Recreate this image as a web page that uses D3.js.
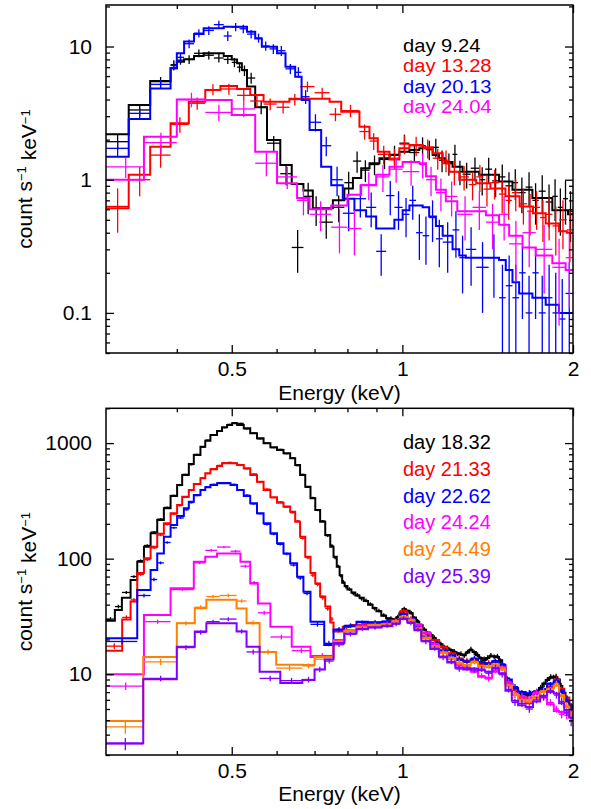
<!DOCTYPE html>
<html><head><meta charset="utf-8">
<script src="https://cdn.jsdelivr.net/npm/d3@7"></script>
<style>
body{margin:0;background:#fff}
svg{display:block;background:#fff}
</style>
</head><body>
<svg id="chart" width="591" height="809"></svg>
<script>
// ---------- axis settings (values) ----------
const xDomain = [0.3, 2];
const xMajorTicks = [0.5, 1, 2];
const xMinorTicks = [0.4, 0.6, 0.7, 0.8, 0.9];
const topYDomain = [0.05, 20.5];
const topYMajorTicks = [0.1, 1, 10];
const botYDomain = [2, 2000];
const botYMajorTicks = [10, 100, 1000];
const xLabel = "Energy (keV)";

// ---------- legends ----------
const topLegend = ["day 9.24", "day 13.28", "day 20.13", "day 24.04"];
const botLegend = ["day 18.32", "day 21.33", "day 22.62", "day 24.24", "day 24.49", "day 25.39"];
const topColors = ["#000000", "#ff0000", "#0000ff", "#ff00ff"];
const botColors = ["#000000", "#ff0000", "#0000ff", "#ff00ff", "#ff8000", "#8000ff"];

// ---------- spectra: [E_lo, E_hi, model, data, error] ----------
const day9_24 = [
[0.300,0.329,2.19,1.93,0.25],[0.329,0.359,3.64,3.34,0.35],[0.359,0.390,5.51,5.45,0.45],
[0.390,0.400,6.87,7.3,0.6],[0.400,0.412,7.69,7.9,0.6],[0.412,0.429,8.02,8.0,0.6],
[0.429,0.446,8.49,8.9,0.6],[0.446,0.465,8.9,8.6,0.6],[0.465,0.484,8.9,8.2,0.6],
[0.484,0.500,8.5,8.0,0.6],[0.500,0.511,8.0,7.6,0.6],[0.511,0.521,7.48,7.0,0.6],
[0.521,0.532,6.67,6.6,0.6],[0.532,0.550,5.0,5.8,0.55],[0.550,0.577,3.5,3.5,0.4],
[0.577,0.609,1.99,1.88,0.25],[0.609,0.638,1.29,1.11,0.2],[0.638,0.669,0.93,0.31,0.11],
[0.669,0.695,0.83,0.75,0.2],[0.695,0.714,0.61,0.60,0.15],[0.714,0.754,0.61,0.48,0.12],
[0.754,0.790,0.70,0.62,0.14],[0.790,0.818,0.86,0.95,0.2],[0.818,0.846,1.03,1.38,0.25],
[0.846,0.875,1.22,1.18,0.22],[0.875,0.911,1.33,1.30,0.22],[0.911,0.949,1.45,1.42,0.22],
[0.949,0.988,1.53,1.55,0.25],[0.988,1.029,1.62,1.88,0.3],[1.029,1.071,1.67,1.60,0.25],
[1.071,1.100,1.72,1.80,0.28],[1.100,1.131,1.72,1.68,0.28],[1.131,1.160,1.53,1.75,0.28],
[1.160,1.190,1.45,1.40,0.26],[1.190,1.226,1.36,1.32,0.25],[1.226,1.250,1.25,1.55,0.28],
[1.250,1.277,1.25,1.15,0.24],[1.277,1.320,1.15,1.10,0.24],[1.320,1.366,1.15,1.22,0.25],
[1.366,1.400,1.09,1.00,0.24],[1.400,1.440,1.09,1.20,0.26],[1.440,1.481,1.09,0.98,0.24],
[1.481,1.520,0.97,1.05,0.25],[1.520,1.564,0.97,0.90,0.24],[1.564,1.600,0.84,0.95,0.25],
[1.600,1.650,0.84,0.80,0.24],[1.650,1.696,0.84,0.88,0.26],[1.696,1.740,0.73,0.70,0.24],
[1.740,1.790,0.73,0.82,0.26],[1.790,1.839,0.73,0.68,0.24],[1.839,1.880,0.59,0.75,0.26],
[1.880,1.920,0.59,0.62,0.24],[1.920,1.960,0.59,0.72,0.26],[1.960,2.000,0.55,0.58,0.24]
];
const day13_28 = [
[0.300,0.329,0.61,0.63,0.23],[0.329,0.359,1.09,1.0,0.25],[0.359,0.390,1.77,1.53,0.3],
[0.390,0.420,2.65,2.6,0.35],[0.420,0.449,3.85,3.75,0.4],[0.449,0.4775,4.72,4.75,0.45],
[0.4775,0.511,5.06,4.8,0.45],[0.511,0.539,4.8,4.3,0.45],[0.539,0.569,4.33,3.9,0.4],
[0.569,0.600,3.85,3.7,0.38],[0.600,0.632,3.85,3.5,0.36],[0.632,0.660,4.05,4.0,0.4],
[0.660,0.700,4.05,5.0,0.45],[0.700,0.744,4.05,4.5,0.4],[0.744,0.780,3.85,3.1,0.35],
[0.780,0.840,3.24,3.3,0.35],[0.840,0.875,2.5,2.3,0.3],[0.875,0.905,2.05,1.95,0.28],
[0.905,0.949,1.62,1.55,0.25],[0.949,0.988,1.42,1.45,0.25],[0.988,1.029,1.72,1.85,0.3],
[1.029,1.086,1.82,1.80,0.3],[1.086,1.131,1.75,1.72,0.28],[1.131,1.178,1.58,1.45,0.26],
[1.178,1.210,1.33,1.40,0.26],[1.210,1.260,1.15,1.15,0.24],[1.260,1.310,1.00,1.05,0.22],
[1.310,1.350,1.00,0.92,0.22],[1.350,1.390,0.94,1.05,0.24],[1.390,1.430,0.94,0.85,0.22],
[1.430,1.480,0.86,0.95,0.24],[1.480,1.520,0.86,0.78,0.22],[1.520,1.560,0.75,0.70,0.2],
[1.560,1.610,0.75,0.80,0.22],[1.610,1.660,0.63,0.66,0.2],[1.660,1.700,0.63,0.58,0.2],
[1.700,1.750,0.56,0.62,0.2],[1.750,1.790,0.56,0.52,0.18],[1.790,1.840,0.47,0.55,0.2],
[1.840,1.890,0.47,0.45,0.18],[1.890,1.950,0.41,0.50,0.2],[1.950,2.000,0.40,0.42,0.18]
];
const day20_13 = [
[0.300,0.329,1.49,1.72,0.25],[0.329,0.359,2.86,3.15,0.3],[0.359,0.390,4.85,5.2,0.4],
[0.390,0.400,6.87,7.2,0.6],[0.400,0.412,8.9,8.3,0.7],[0.412,0.429,10.9,10.5,0.8],
[0.429,0.446,12.4,12.6,0.9],[0.446,0.465,13.7,13.2,1.0],[0.465,0.484,13.7,14.6,1.0],
[0.484,0.500,14.1,12.0,1.0],[0.500,0.516,14.1,14.0,1.0],[0.516,0.532,14.1,13.6,1.0],
[0.532,0.550,12.9,12.4,0.9],[0.550,0.565,11.5,11.6,0.9],[0.565,0.583,9.97,10.1,0.8],
[0.583,0.601,9.97,9.6,0.8],[0.601,0.622,8.9,9.3,0.8],[0.622,0.647,7.05,6.8,0.6],
[0.647,0.664,5.94,6.4,0.6],[0.664,0.686,3.97,4.2,0.5],[0.686,0.719,2.36,2.7,0.4],
[0.719,0.749,1.25,1.8,0.3],[0.749,0.785,0.91,1.0,0.25],[0.785,0.823,0.72,0.56,0.15],
[0.823,0.863,0.59,0.72,0.2],[0.863,0.899,0.53,0.62,0.18],[0.899,0.936,0.43,0.29,0.1],
[0.936,0.968,0.43,0.76,0.22],[0.968,1.001,0.50,0.62,0.2],[1.001,1.029,0.59,0.55,0.18],
[1.029,1.057,0.64,0.70,0.2],[1.057,1.086,0.64,0.40,0.15],[1.086,1.115,0.62,0.38,0.15],
[1.115,1.146,0.53,0.52,0.18],[1.146,1.178,0.45,0.36,0.14],[1.178,1.226,0.38,0.34,0.14],
[1.226,1.260,0.30,0.42,0.16],[1.260,1.294,0.27,0.26,0.12],[1.294,1.350,0.26,0.30,0.14],
[1.350,1.420,0.26,0.22,0.12],[1.420,1.481,0.26,0.26,0.13],[1.481,1.522,0.25,0.13,0.1],
[1.522,1.564,0.21,0.16,0.11],[1.564,1.607,0.17,0.13,0.1],[1.607,1.650,0.14,0.20,0.11],
[1.650,1.696,0.14,0.10,0.09],[1.696,1.740,0.13,0.20,0.11],[1.740,1.790,0.13,0.10,0.09],
[1.790,1.840,0.115,0.13,0.1],[1.840,1.889,0.115,0.10,0.1],[1.889,1.940,0.10,0.09,0.09],
[1.940,2.000,0.10,0.14,0.1]
];
const day24_04 = [
[0.300,0.350,1.0,1.25,0.22],[0.350,0.400,2.1,1.9,0.35],[0.400,0.449,4.0,4.0,0.5],
[0.449,0.500,3.97,3.2,0.45],[0.500,0.550,3.06,3.4,0.45],[0.550,0.601,1.62,1.33,0.27],
[0.601,0.652,0.94,1.05,0.2],[0.652,0.686,0.73,0.70,0.16],[0.686,0.749,0.60,0.55,0.14],
[0.749,0.800,0.64,0.44,0.16],[0.800,0.846,0.77,0.43,0.16],[0.846,0.899,0.91,0.92,0.22],
[0.899,0.949,1.09,1.05,0.24],[0.949,1.001,1.25,1.20,0.25],[1.001,1.071,1.36,1.15,0.25],
[1.071,1.101,1.33,1.30,0.28],[1.101,1.146,1.06,1.0,0.25],[1.146,1.193,0.84,0.80,0.22],
[1.193,1.250,0.69,0.75,0.22],[1.250,1.330,0.58,0.55,0.2],[1.330,1.404,0.58,0.62,0.2],
[1.404,1.481,0.54,0.48,0.18],[1.481,1.543,0.46,0.55,0.2],[1.543,1.629,0.38,0.33,0.16],
[1.629,1.719,0.31,0.40,0.18],[1.719,1.839,0.27,0.30,0.16],[1.839,1.941,0.236,0.22,0.14],
[1.941,2.000,0.21,0.26,0.15]
];

const day18_32 = [
[0.300,0.311,29,30,1.2],[0.311,0.320,36,38.5,1.4],[0.320,0.3315,46,51,1.6],
[0.3315,0.3406,65.5,70,2],[0.3406,0.350,94,96,2.5],[0.350,0.3596,127,130,3],
[0.3596,0.3694,166,170,3.5],[0.3694,0.3795,216,220,4],[0.3795,0.390,273,278,5],
[0.390,0.4005,349,352,6],[0.4005,0.4088,434,430,7],[0.4088,0.420,530,535,8],
[0.420,0.4286,660,650,9],[0.4286,0.4403,789,800,10],[0.4403,0.449,931,925,12],
[0.449,0.4585,1050,1060,13],[0.4585,0.471,1175,1170,14],[0.471,0.4807,1272,1280,15],
[0.4807,0.4906,1369,1360,16],[0.4906,0.5007,1434,1450,17],[0.5007,0.511,1483,1500,18],
[0.511,0.525,1434,1480,17],[0.525,0.539,1342,1330,16],[0.539,0.554,1215,1220,15],
[0.554,0.569,1100,1090,14],[0.569,0.585,996,1000,13],[0.585,0.601,920,915,12],
[0.601,0.617,872,880,12],[0.617,0.634,816,810,11],[0.634,0.647,739,745,10],
[0.647,0.660,646,640,9],[0.660,0.674,530,535,8],[0.674,0.6885,420,415,7],
[0.6885,0.702,333,338,6],[0.702,0.716,264,262,5],[0.716,0.731,209,212,4.5],
[0.731,0.746,160,158,4],[0.746,0.756,127,130,3.5],[0.756,0.766,104,102,3],
[0.766,0.775,85,86,2.7],[0.775,0.783,72,71,2.4],[0.783,0.791,62,63,2.2],
[0.791,0.800,58,57,2],[0.800,0.813,54,54.5,2],[0.813,0.826,51,50,1.8],
[0.826,0.840,48,48.5,1.8],[0.840,0.855,46,45,1.7],[0.855,0.870,43,43.5,1.6],
[0.870,0.886,40,40.5,1.5],[0.886,0.900,37.5,37,1.4],[0.900,0.918,35,35.5,1.3],
[0.918,0.936,32,32.5,1.2],[0.936,0.948,30.5,30,1.2],[0.948,0.961,30,30.5,1.2],
[0.961,0.975,29.8,29.5,1.2],[0.975,0.988,31,31.5,1.2],[0.988,1.000,33.7,33,1.3],
[1.000,1.015,36.5,37,1.4],[1.015,1.030,35.5,35,1.4],[1.030,1.043,33.7,34,1.3],
[1.043,1.057,31,30.5,1.2],[1.057,1.071,28.5,29,1.1],[1.071,1.086,26.5,26,1.1],
[1.086,1.101,24.2,24.5,1],[1.101,1.116,23,22.5,1],[1.116,1.131,21.9,22,1],
[1.131,1.146,20.5,20.8,0.9],[1.146,1.162,19.2,19,0.9],[1.162,1.177,18.2,18.3,0.8],
[1.177,1.193,17.3,17.2,0.8],[1.193,1.210,16.7,16.9,0.8],[1.210,1.226,16.2,16,0.8],
[1.226,1.243,15.6,15.8,0.7],[1.243,1.260,15.2,15,0.7],[1.260,1.277,14.8,15.1,0.7],
[1.277,1.294,14.6,14.5,0.7],[1.294,1.312,15.4,15.6,0.7],[1.312,1.330,16.2,16.5,0.8],
[1.330,1.348,15.6,15.4,0.7],[1.348,1.366,14.6,14.8,0.7],[1.366,1.385,13.8,13.6,0.7],
[1.385,1.404,13.3,13.5,0.7],[1.404,1.423,13.8,13.9,0.7],[1.423,1.442,14.3,14.6,0.7],
[1.442,1.462,14.3,14.1,0.7],[1.462,1.481,14.1,14.3,0.7],[1.481,1.500,13.2,13.0,0.7],
[1.500,1.522,11.2,11.4,0.6],[1.522,1.543,9.2,9.1,0.5],[1.543,1.564,8.2,8.3,0.5],
[1.564,1.586,7.6,7.5,0.4],[1.586,1.607,7.1,7.2,0.4],[1.607,1.629,6.85,6.8,0.4],
[1.629,1.651,6.7,6.75,0.4],[1.651,1.673,6.6,6.5,0.4],[1.673,1.696,6.7,6.8,0.4],
[1.696,1.719,6.85,6.9,0.4],[1.719,1.742,7.1,7.0,0.4],[1.742,1.766,7.6,7.7,0.4],
[1.766,1.790,8.3,8.2,0.45],[1.790,1.815,8.9,9.0,0.45],[1.815,1.839,9.3,9.5,0.5],
[1.839,1.858,9.5,9.4,0.5],[1.858,1.877,9.4,9.6,0.5],[1.877,1.896,9.0,8.8,0.5],
[1.896,1.915,7.9,8.0,0.45],[1.915,1.940,6.9,6.8,0.4],[1.940,1.968,6.0,6.1,0.4],
[1.968,2.000,5.4,5.3,0.35]
];
const day21_33 = [
[0.300,0.3204,16,17.5,1],[0.3204,0.3315,29.8,31,1.3],[0.3315,0.3406,42.5,44,1.6],
[0.3406,0.350,75,73,2],[0.350,0.3596,101,98,2.5],[0.3596,0.3694,127,124,3],
[0.3694,0.3795,164,160,3.5],[0.3795,0.390,202,198,4],[0.390,0.4005,247,243,4.5],
[0.4005,0.4088,291,288,5],[0.4088,0.420,344,340,5.5],[0.420,0.4286,393,390,6],
[0.4286,0.4403,443,445,6.5],[0.4403,0.449,496,500,7],[0.449,0.4585,548,545,7.5],
[0.4585,0.471,593,600,8],[0.471,0.4807,634,640,8],[0.4807,0.4906,669,675,8.5],
[0.4906,0.5007,669,680,8.5],[0.5007,0.511,669,672,8.5],[0.511,0.525,646,650,8],
[0.525,0.539,605,600,8],[0.539,0.554,530,540,7.5],[0.554,0.569,463,460,7],
[0.569,0.585,393,400,6],[0.585,0.601,340,338,5.5],[0.601,0.617,305,310,5],
[0.617,0.634,282,280,5],[0.634,0.647,255,250,4.5],[0.647,0.660,209,212,4],
[0.660,0.674,155,150,3.5],[0.674,0.6885,104,102,3],[0.6885,0.702,75,72,2.5],
[0.702,0.716,61,60,2.2],[0.716,0.731,47,46,2],[0.731,0.746,38.5,37,1.6],
[0.746,0.756,28,30,1.3],[0.756,0.785,23.4,24,1.1],[0.785,0.810,25.7,25.5,1.1],
[0.810,0.850,26.5,26.8,1.1],[0.850,0.900,27,27.2,1.1],[0.900,0.950,27.5,27.8,1.1],
[0.950,0.990,29,29.5,1.2],[0.990,1.020,34.8,35.5,1.4],[1.020,1.050,30,30.5,1.2],
[1.050,1.080,26.6,26,1.1],[1.080,1.120,22.5,22.8,1],[1.120,1.160,19.8,19.5,0.9],
[1.160,1.200,17,17.2,0.8],[1.200,1.240,15.2,15,0.7],[1.240,1.280,13.5,13.8,0.7],
[1.280,1.320,12.9,13.2,0.7],[1.320,1.360,13.3,13.6,0.7],[1.360,1.400,12.4,12.2,0.6],
[1.400,1.440,12.4,12.6,0.6],[1.440,1.480,12.9,12.7,0.6],[1.480,1.520,11.5,11.8,0.6],
[1.520,1.560,8.5,8.3,0.5],[1.560,1.600,7.3,7.4,0.45],[1.600,1.650,6.3,6.2,0.4],
[1.650,1.700,5.6,5.8,0.4],[1.700,1.750,6.3,6.4,0.4],[1.750,1.800,7.0,7.2,0.45],
[1.800,1.850,7.8,7.6,0.45],[1.850,1.890,8.9,9.1,0.5],[1.890,1.930,7.5,7.4,0.45],
[1.930,1.970,6.3,6.2,0.4],[1.970,2.000,4.95,5.1,0.35]
];
const day22_62 = [
[0.300,0.3406,20.5,19.2,0.9],[0.3406,0.3596,53.6,48,1.8],[0.3596,0.3694,79.8,66,2.2],
[0.3694,0.3795,111,92,2.6],[0.3795,0.390,155,138,3.2],[0.390,0.4005,196,185,3.6],
[0.4005,0.4116,234,225,4],[0.4116,0.420,273,265,4.5],[0.420,0.4286,311,305,5],
[0.4286,0.4403,356,352,5.5],[0.4403,0.449,393,395,6],[0.449,0.4585,415,420,6],
[0.4585,0.471,434,440,6.5],[0.471,0.4975,449,455,6.5],[0.4975,0.511,434,440,6.5],
[0.511,0.525,393,395,6],[0.525,0.539,349,355,5.5],[0.539,0.554,301,298,5],
[0.554,0.569,247,245,4.5],[0.569,0.585,202,198,4],[0.585,0.601,166,163,3.5],
[0.601,0.617,136,133,3.2],[0.617,0.634,111,110,2.8],[0.634,0.652,91.2,88,2.5],
[0.652,0.669,69.9,68,2.2],[0.669,0.6885,51.8,50,1.8],[0.6885,0.728,28.5,27,1.2],
[0.728,0.756,17.9,18.5,1],[0.756,0.790,24.2,24.5,1.1],[0.790,0.830,26,26.5,1.1],
[0.830,0.870,28.5,28,1.1],[0.870,0.920,28,28.3,1.1],[0.920,0.960,28.5,28.8,1.1],
[0.960,0.990,29.5,29.2,1.2],[0.990,1.020,33,33.5,1.3],[1.020,1.050,30,29.6,1.2],
[1.050,1.080,25.5,25.9,1.1],[1.080,1.120,21,21.4,1],[1.120,1.160,18.5,18.2,0.9],
[1.160,1.200,16,16.2,0.8],[1.200,1.240,14.6,14.4,0.7],[1.240,1.280,13.3,13.5,0.7],
[1.280,1.320,12.9,12.7,0.7],[1.320,1.360,13.5,13.8,0.7],[1.360,1.400,12.6,12.8,0.6],
[1.400,1.440,12.4,12.2,0.6],[1.440,1.480,12.9,13.1,0.6],[1.480,1.520,12.0,12.3,0.6],
[1.520,1.560,9,8.8,0.5],[1.560,1.600,7.6,7.8,0.45],[1.600,1.650,7.0,6.9,0.4],
[1.650,1.700,6.8,6.9,0.4],[1.700,1.750,7.0,7.1,0.4],[1.750,1.800,7.3,7.5,0.45],
[1.800,1.850,8.3,8.1,0.45],[1.850,1.890,8.6,8.8,0.5],[1.890,1.930,7.2,7.0,0.45],
[1.930,1.970,5.8,6.0,0.4],[1.970,2.000,5.2,5.0,0.35]
];
const day24_24 = [
[0.300,0.350,10.0,7.9,0.6],[0.350,0.390,32.6,28.5,1.2],[0.390,0.4286,55.5,54,1.6],
[0.4286,0.449,94.2,92,2.5],[0.449,0.471,104,118,3],[0.471,0.4975,111,126,3],
[0.4975,0.518,111,116,3],[0.518,0.539,94,86,2.5],[0.539,0.556,61,62,2],
[0.556,0.585,41,34,1.5],[0.585,0.638,25.8,21,1],[0.638,0.6885,17.3,16,0.8],
[0.6885,0.756,14.1,14.5,0.7],[0.756,0.790,19.8,19,0.9],[0.790,0.830,24,23.5,1],
[0.830,0.870,26,26.5,1.1],[0.870,0.920,26.5,26.2,1.1],[0.920,0.960,27,27.5,1.1],
[0.960,0.990,29,28.6,1.2],[0.990,1.020,31,31.5,1.3],[1.020,1.050,29.5,30,1.2],
[1.050,1.080,27,26.4,1.1],[1.080,1.120,23,22.5,1],[1.120,1.160,18,18.4,0.9],
[1.160,1.200,15.5,15.2,0.8],[1.200,1.240,13.6,13.9,0.7],[1.240,1.280,12,11.8,0.6],
[1.280,1.320,11.2,11.5,0.6],[1.320,1.360,10.5,10.8,0.6],[1.360,1.400,9.5,9.7,0.5],
[1.400,1.440,9.3,9.1,0.5],[1.440,1.480,10.5,10.8,0.6],[1.480,1.520,11.5,11.2,0.6],
[1.520,1.560,8.3,8.6,0.5],[1.560,1.600,6.8,6.6,0.45],[1.600,1.650,6.3,6.5,0.4],
[1.650,1.700,6.3,6.1,0.4],[1.700,1.750,6.8,7.0,0.45],[1.750,1.800,6.3,6.4,0.4],
[1.800,1.850,5.5,5.7,0.4],[1.850,1.890,4.8,5.0,0.35],[1.890,1.930,4.7,4.5,0.35],
[1.930,1.970,4.6,4.4,0.35],[1.970,2.000,4.3,4.5,0.35]
];
const day24_49 = [
[0.300,0.349,3.94,3.5,0.45],[0.349,0.400,14.1,12.8,0.8],[0.400,0.4303,27.6,27.6,1.2],
[0.4303,0.451,37.2,38,1.5],[0.451,0.476,44,47,1.6],[0.476,0.510,44,48,1.6],
[0.510,0.531,37,43,1.5],[0.531,0.560,27.6,28,1.2],[0.560,0.599,15.6,15.6,0.8],
[0.599,0.666,12.1,11.3,0.6],[0.666,0.700,12.0,11.8,0.6],[0.700,0.756,14.1,13.5,0.6],
[0.756,0.790,19.2,19,0.8],[0.790,0.830,23.5,23.8,1],[0.830,0.870,25.5,25.2,1],
[0.870,0.920,26.5,26.9,1.1],[0.920,0.960,27,26.6,1.1],[0.960,0.990,28.5,28.9,1.2],
[0.990,1.020,31.5,31,1.3],[1.020,1.050,29,29.5,1.2],[1.050,1.080,25,24.6,1.1],
[1.080,1.120,20.5,20.9,1],[1.120,1.160,17.5,17.2,0.9],[1.160,1.200,15.2,15.5,0.8],
[1.200,1.240,13.8,13.5,0.7],[1.240,1.280,12.4,12.7,0.7],[1.280,1.320,12.0,11.7,0.6],
[1.320,1.360,12.6,12.9,0.7],[1.360,1.400,11.8,11.5,0.6],[1.400,1.440,11.5,11.8,0.6],
[1.440,1.480,12.2,11.9,0.6],[1.480,1.520,11.0,11.3,0.6],[1.520,1.560,8.0,7.8,0.45],
[1.560,1.600,6.6,6.8,0.4],[1.600,1.650,6.0,5.8,0.4],[1.650,1.700,5.8,6.0,0.4],
[1.700,1.750,6.4,6.2,0.4],[1.750,1.800,7.0,7.2,0.45],[1.800,1.850,7.5,7.3,0.45],
[1.850,1.890,8.0,8.3,0.5],[1.890,1.930,6.6,6.4,0.4],[1.930,1.970,5.2,5.4,0.35],
[1.970,2.000,4.6,4.4,0.35]
];
const day25_39 = [
[0.300,0.349,2.53,2.5,0.3],[0.349,0.400,9.06,9.2,0.5],[0.400,0.4303,17.3,17,0.8],
[0.4303,0.451,23.4,23,1],[0.451,0.476,27.6,28.5,1.1],[0.476,0.510,27.6,30,1.1],
[0.510,0.531,23.4,23.5,1],[0.531,0.560,17.3,15.6,0.8],[0.560,0.609,10.5,9.2,0.5],
[0.609,0.666,8.4,8.8,0.5],[0.666,0.700,8.9,9.0,0.5],[0.700,0.730,11.0,11.0,0.6],
[0.730,0.756,13.4,13,0.6],[0.756,0.790,18.6,18,0.8],[0.790,0.830,22.5,22.2,1],
[0.830,0.870,24.5,24.8,1],[0.870,0.920,25.5,25.2,1],[0.920,0.960,26,26.4,1.1],
[0.960,0.990,27.5,27.1,1.1],[0.990,1.020,30,30.5,1.2],[1.020,1.050,28,27.6,1.1],
[1.050,1.080,24,24.4,1],[1.080,1.120,19.5,19.1,0.9],[1.120,1.160,16.5,16.8,0.8],
[1.160,1.200,14.2,13.9,0.7],[1.200,1.240,12.6,12.9,0.7],[1.240,1.280,11.4,11.1,0.6],
[1.280,1.320,11.0,11.3,0.6],[1.320,1.360,11.2,10.9,0.6],[1.360,1.400,10.8,11.1,0.6],
[1.400,1.440,10.5,10.2,0.55],[1.440,1.480,11.2,11.5,0.6],[1.480,1.520,10.2,9.9,0.55],
[1.520,1.560,7.2,7.4,0.45],[1.560,1.600,5.9,5.7,0.4],[1.600,1.650,5.4,5.6,0.4],
[1.650,1.700,5.2,5.0,0.35],[1.700,1.750,5.8,6.0,0.4],[1.750,1.800,6.5,6.3,0.4],
[1.800,1.850,7.0,7.2,0.45],[1.850,1.890,6.8,6.6,0.45],[1.890,1.930,5.6,5.8,0.4],
[1.930,1.970,4.9,4.7,0.35],[1.970,2.000,4.2,3.9,0.35]
];

const topSeries = [day9_24, day13_28, day20_13, day24_04];
const botSeries = [day18_32, day21_33, day22_62, day24_24, day24_49, day25_39];

// ---------- drawing ----------
const FONT = '"Liberation Sans", Arial, Helvetica, sans-serif';
const FS = 21;
const svg = d3.select('#chart');
const defs = svg.append('defs');
const L = 106, R = 573;

function minorLog(dom){
  const out = [];
  for (let e = Math.floor(Math.log10(dom[0])); e <= Math.ceil(Math.log10(dom[1])); e++){
    for (let m = 2; m <= 9; m++){
      const v = m * Math.pow(10, e);
      if (v >= dom[0] && v <= dom[1]) out.push(+v.toPrecision(6));
    }
  }
  return out;
}

function styleAxis(g){
  g.select('.domain').remove();
  g.selectAll('.tick line').attr('stroke','#000').attr('stroke-width',1.3);
  g.attr('font-family', FONT).attr('font-size', FS);
  g.selectAll('.tick text').attr('fill','#000');
}

function panel(id, top, bottom, yDomain, yMajor, series, colors, legend, legBase, legStep, legFS, legStretch, xLabBase){
  const x = d3.scaleLog().domain(xDomain).range([L, R]);
  const y = d3.scaleLog().domain(yDomain).range([bottom, top]);
  const g = svg.append('g');

  defs.append('clipPath').attr('id', id).append('rect')
    .attr('x', L).attr('y', top).attr('width', R - L).attr('height', bottom - top);
  const plot = g.append('g').attr('clip-path', `url(#${id})`);

  const line = d3.line().x(d => x(d[0])).y(d => y(d[1])).curve(d3.curveStepAfter);

  series.forEach((rows, i) => {
    const col = colors[i];
    const pts = rows.map(r => [r[0], r[2]]);
    pts.push([rows[rows.length - 1][1], rows[rows.length - 1][2]]);
    plot.append('path').attr('d', line(pts)).attr('fill', 'none')
      .attr('stroke', col).attr('stroke-width', 2).attr('stroke-linejoin', 'miter');
    const cg = plot.append('g').attr('stroke', col).attr('stroke-width', 1.3);
    cg.selectAll('line.h').data(rows).join('line').attr('class','h')
      .attr('x1', r => x(r[0])).attr('x2', r => x(r[1]))
      .attr('y1', r => y(r[3])).attr('y2', r => y(r[3]));
    cg.selectAll('line.v').data(rows).join('line').attr('class','v')
      .attr('x1', r => x((r[0] + r[1]) / 2)).attr('x2', r => x((r[0] + r[1]) / 2))
      .attr('y1', r => (r[3] - r[4] > 0 ? y(r[3] - r[4]) : bottom + 5))
      .attr('y2', r => y(r[3] + r[4]));
  });

  // frame
  g.append('rect').attr('x', L).attr('y', top).attr('width', R - L).attr('height', bottom - top)
    .attr('fill', 'none').attr('stroke', '#000').attr('stroke-width', 1.5);

  const yMinor = minorLog(yDomain);
  const fmt = d => d3.format('~g')(d);

  g.append('g').attr('transform', `translate(0,${bottom})`)
    .call(d3.axisBottom(x).tickValues(xMajorTicks).tickSize(-8).tickPadding(8).tickFormat(fmt)).call(styleAxis);
  g.append('g').attr('transform', `translate(0,${bottom})`)
    .call(d3.axisBottom(x).tickValues(xMinorTicks).tickSize(-4).tickFormat('')).call(styleAxis);
  g.append('g').attr('transform', `translate(0,${top})`)
    .call(d3.axisTop(x).tickValues(xMajorTicks).tickSize(-8).tickFormat('')).call(styleAxis);
  g.append('g').attr('transform', `translate(0,${top})`)
    .call(d3.axisTop(x).tickValues(xMinorTicks).tickSize(-4).tickFormat('')).call(styleAxis);

  g.append('g').attr('transform', `translate(${L},0)`)
    .call(d3.axisLeft(y).tickValues(yMajor).tickSize(-8).tickPadding(14).tickFormat(fmt)).call(styleAxis);
  g.append('g').attr('transform', `translate(${L},0)`)
    .call(d3.axisLeft(y).tickValues(yMinor).tickSize(-4).tickFormat('')).call(styleAxis);
  g.append('g').attr('transform', `translate(${R},0)`)
    .call(d3.axisRight(y).tickValues(yMajor).tickSize(-8).tickFormat('')).call(styleAxis);
  g.append('g').attr('transform', `translate(${R},0)`)
    .call(d3.axisRight(y).tickValues(yMinor).tickSize(-4).tickFormat('')).call(styleAxis);

  // x label
  g.append('text').attr('x', (L + R) / 2).attr('y', xLabBase).attr('text-anchor', 'middle')
    .attr('font-family', FONT).attr('font-size', FS).text(xLabel);

  // y label
  const yl = g.append('text').attr('transform', `translate(32,${(top + bottom) / 2}) rotate(-90)`)
    .attr('text-anchor', 'middle').attr('font-family', FONT).attr('font-size', FS);
  yl.append('tspan').text('count s');
  yl.append('tspan').attr('dy', '-0.45em').attr('font-size', FS * 0.62).text('−1');
  yl.append('tspan').attr('dy', '0.45em').text(' keV');
  yl.append('tspan').attr('dy', '-0.45em').attr('font-size', FS * 0.62).text('−1');

  // legend
  legend.forEach((t, i) => {
    const lt = g.append('text').attr('x', 403).attr('y', legBase + i * legStep)
      .attr('font-family', FONT).attr('font-size', legFS).attr('fill', colors[i]).text(t);
    if (legStretch !== 1) {
      const w = lt.node().getComputedTextLength();
      lt.attr('textLength', w * legStretch).attr('lengthAdjust', 'spacingAndGlyphs');
    }
  });
}

panel('clipTop', 5, 353, topYDomain, topYMajorTicks, topSeries, topColors, topLegend, 52, 20.3, 18, 1.12, 400);
panel('clipBot', 408.3, 755, botYDomain, botYMajorTicks, botSeries, botColors, botLegend, 449.3, 26.7, 20, 1, 801);
</script>
</body></html>
